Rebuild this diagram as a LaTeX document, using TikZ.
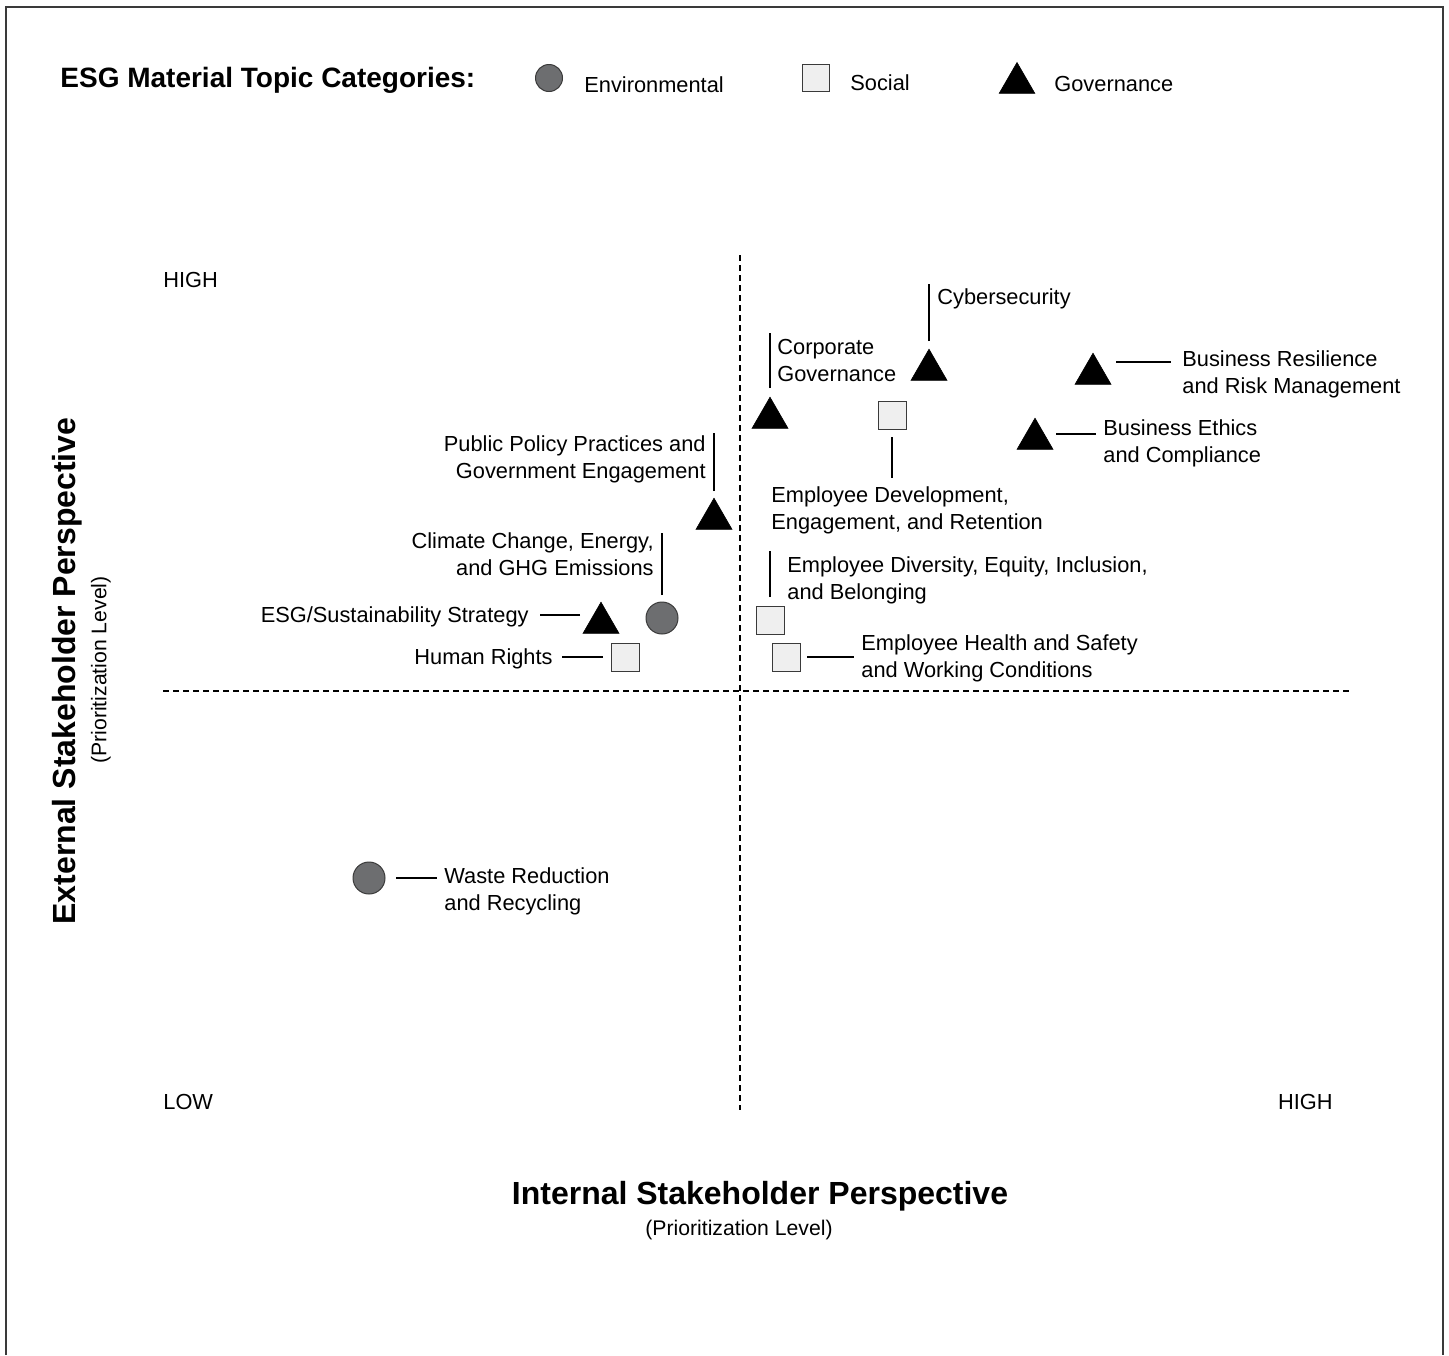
\documentclass[tikz,border=0pt]{standalone}
\usepackage{fontspec}
\setmainfont{Liberation Sans}
\usetikzlibrary{shapes.geometric}

\definecolor{envgray}{HTML}{6D6E70}
\definecolor{socgray}{HTML}{EFEFEF}
\definecolor{rimgray}{HTML}{3A3A3A}
\newcommand\lblfont{\fontsize{10.9}{13.75}\selectfont}

\tikzset{
	envdot/.style={circle, fill=envgray, draw=rimgray, line width=0.5pt, inner sep=0pt, outer sep=0pt, minimum size=16pt},
	socbox/.style={rectangle, fill=socgray, draw=rimgray, line width=0.5pt, inner sep=0pt, outer sep=0pt, minimum size=14pt},
	govtri/.style={regular polygon, regular polygon sides=3, fill=black, draw=black, line width=0.3pt, inner sep=0pt, outer sep=0pt, minimum size=20.8pt},
	lbl/.style={inner sep=0pt, font=\lblfont, yshift=-1.2pt},
	lead/.style={line width=1pt},
	quad/.style={line width=1pt, dash pattern=on 3pt off 2pt},
	frame/.style={line width=0.8pt, draw=rimgray}
}

\begin{document}
\begin{tikzpicture}[x=0.5pt, y=-0.5pt]
				\useasboundingbox (0,0) rectangle (1449,1355);
				\draw[frame] (6,1355) -- (6,7) -- (1443,7) -- (1443,1355);
				% Legend:
				\node[anchor=west, inner sep=0pt, font=\fontsize{14}{16}\bfseries] (legtitle) at (60,80) {ESG Material Topic Categories:};
				\node[envdot, minimum size=13.5pt] (legenv) at (549,78) {};
				\node[lbl, anchor=west] (legenvtxt) at (584,82) {Environmental};
				\node[socbox, minimum size=13.5pt] (legsoc) at (816,78) {};
				\node[lbl, anchor=west] (legsoctxt) at (850,80) {Social};
				\node[govtri, minimum size=20.5pt] (leggov) at (1017,83) {};
				\node[lbl, anchor=west] (leggovtxt) at (1054,82) {Governance};
				% Quadrant lines and axis texts:
				\coordinate (vtop) at (740,255);
				\coordinate (vbot) at (740,1110);
				\coordinate (hleft) at (163,691);
				\coordinate (hright) at (1350,691);
				\draw[quad] (vtop) -- (vbot);
				\draw[quad] (hleft) -- (hright);
				\node[lbl, anchor=west] (yhigh) at (163,278) {HIGH};
				\node[lbl, anchor=west] (low) at (163,1100) {LOW};
				\node[lbl, anchor=east] (xhigh) at (1333,1100) {HIGH};
				\node[inner sep=0pt, font=\fontsize{16}{18}\bfseries] (xaxis) at (760,1196) {Internal Stakeholder Perspective};
				\node[inner sep=0pt, font=\fontsize{10.6}{12}\selectfont] (xsub) at (739,1230) {(Prioritization Level)};
				\node[inner sep=0pt, rotate=90, font=\fontsize{16}{18}\bfseries] (yaxis) at (67,671) {External Stakeholder Perspective};
				\node[inner sep=0pt, rotate=90, font=\fontsize{10.6}{12}\selectfont] (ysub) at (101,670) {(Prioritization Level)};
				% Topics:
				\node[govtri] (cyber) at (929,370) {};
				\node[lbl, anchor=west] (cybertxt) at (937,296) {Cybersecurity};
				\coordinate (cyberend) at (929,284);
				\draw[lead] (cyber.north) ++(0,-8) -- (cyberend);
				\node[govtri] (corpgov) at (770,418) {};
				\node[lbl, anchor=west, align=left] (corpgovtxt) at (777,358) {Corporate\\Governance};
				\coordinate (corpgovend) at (770,333);
				\draw[lead] (corpgov.north) ++(0,-9) -- (corpgovend);
				\node[socbox] (empdev) at (892,415) {};
				\node[lbl, anchor=west, align=left] (empdevtxt) at (771,508) {Employee Development,\\Engagement, and Retention};
				\coordinate (empdevend) at (892,478);
				\draw[lead] (empdev.south) ++(0,8) -- (empdevend);
				\node[govtri] (bizres) at (1093,374) {};
				\node[lbl, anchor=west, align=left] (bizrestxt) at (1182,372) {Business Resilience\\and Risk Management};
				\coordinate (bizresend) at (1171,362);
				\draw[lead] (bizres) ++(23,-12) -- (bizresend);
				\node[govtri] (bizeth) at (1035,439) {};
				\node[lbl, anchor=west, align=left] (bizethtxt) at (1103,441) {Business Ethics\\and Compliance};
				\coordinate (bizethend) at (1096,434);
				\draw[lead] (bizeth) ++(21,-5) -- (bizethend);
				\node[govtri] (pubpol) at (714,519) {};
				\node[lbl, anchor=east, align=right] (pubpoltxt) at (706,457) {Public Policy Practices and\\Government Engagement};
				\coordinate (pubpolend) at (714,433);
				\draw[lead] (pubpol.north) ++(0,-7) -- (pubpolend);
				\node[envdot] (climate) at (662,618) {};
				\node[lbl, anchor=east, align=right] (climatetxt) at (654,552) {Climate Change, Energy,\\and GHG Emissions};
				\coordinate (climateend) at (662,533);
				\draw[lead] (climate.north) ++(0,-7) -- (climateend);
				\node[govtri] (esgstrat) at (601,623) {};
				\node[lbl, anchor=east] (esgstrattxt) at (529,614) {ESG/Sustainability Strategy};
				\coordinate (esgstratend) at (540,615);
				\draw[lead] (esgstrat) ++(-21,-8) -- (esgstratend);
				\node[socbox] (humrights) at (625,657) {};
				\node[lbl, anchor=east] (humrightstxt) at (553,656) {Human Rights};
				\coordinate (humrightsend) at (562,657);
				\draw[lead] (humrights.west) ++(-8,0) -- (humrightsend);
				\node[socbox] (dei) at (770,620) {};
				\node[lbl, anchor=west, align=left] (deitxt) at (787,578) {Employee Diversity, Equity, Inclusion,\\and Belonging};
				\coordinate (deiend) at (770,551);
				\draw[lead] (dei.north) ++(0,-9) -- (deiend);
				\node[socbox] (health) at (786,657) {};
				\node[lbl, anchor=west, align=left] (healthtxt) at (861,656) {Employee Health and Safety\\and Working Conditions};
				\coordinate (healthend) at (854,657);
				\draw[lead] (health.east) ++(7,0) -- (healthend);
				\node[envdot] (waste) at (369,878) {};
				\node[lbl, anchor=west, align=left] (wastetxt) at (444,889) {Waste Reduction\\and Recycling};
				\coordinate (wasteend) at (437,878);
				\draw[lead] (waste.east) ++(11,0) -- (wasteend);
			\end{tikzpicture}
\end{document}
